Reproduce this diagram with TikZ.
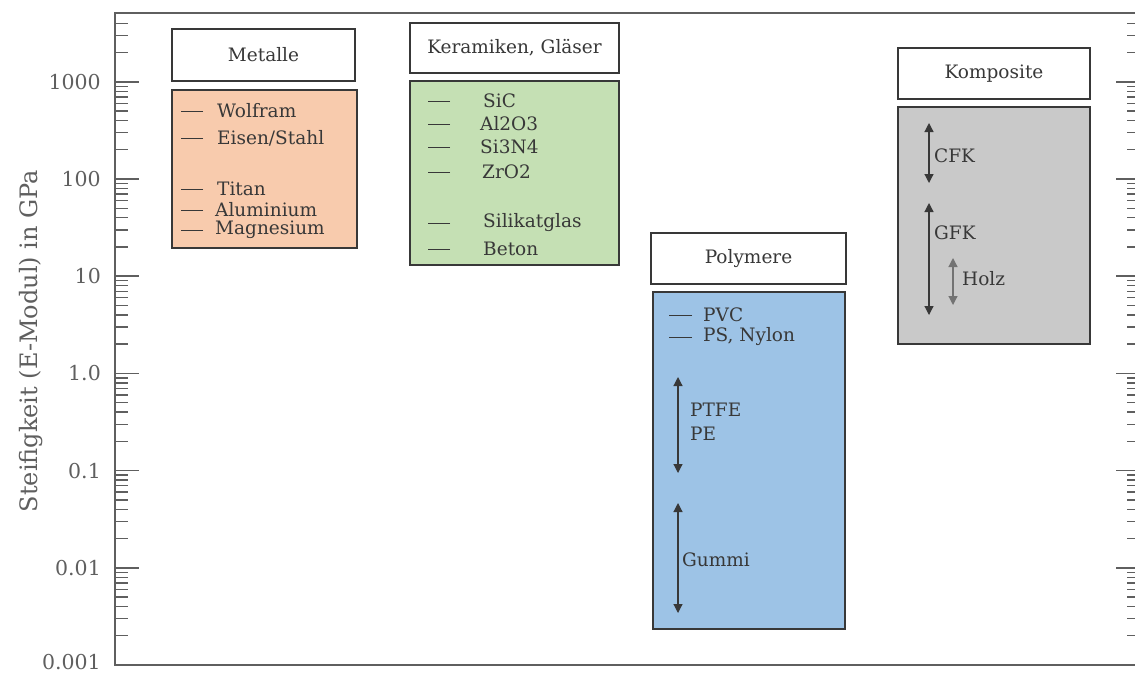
\documentclass[tikz,border=0pt]{standalone}
\usepackage{fontspec}
\setmainfont{DejaVu Serif}
\usepackage{tikz}
\usetikzlibrary{
    arrows.meta,
    calc,
    positioning,
}
\definecolor{metallfill}{HTML}{F8CBAD}
\definecolor{keramikfill}{HTML}{C5E0B4}
\definecolor{polymerfill}{HTML}{9DC3E6}
\definecolor{kompositfill}{HTML}{C9C9C9}
\definecolor{textgray}{HTML}{383838}
\definecolor{axisgray}{HTML}{5F5F5F}

\tikzstyle{headbox}=[draw=textgray,fill=white,line width=1.4pt,rectangle,inner sep=0pt,font=\fontsize{18.5}{22}\selectfont,text=textgray]
\tikzstyle{rangebox}=[draw=textgray,line width=1.4pt,rectangle,inner sep=0pt]
\tikzstyle{itemlabel}=[anchor=west,inner sep=0pt,font=\fontsize{18.5}{22}\selectfont,text=textgray]
\tikzstyle{itemline}=[draw=textgray,line width=0.7pt]
\tikzstyle{spanarrow}=[draw=textgray,line width=1.2pt,{Triangle[length=9pt,width=9pt]}-{Triangle[length=9pt,width=9pt]}]
\tikzstyle{axisline}=[draw=axisgray,line width=1.8pt]
\tikzstyle{majortick}=[draw=axisgray,line width=1.6pt]
\tikzstyle{minortick}=[draw=axisgray,line width=1.4pt]
\tikzstyle{ticklabel}=[anchor=east,inner sep=0pt,font=\fontsize{20.5}{24}\selectfont,text=axisgray]

\begin{document}
\begin{tikzpicture}[x=1pt,y=-1pt]
    \useasboundingbox (0,0) rectangle (1135,675);

    % axes and ticks
    \draw[axisline] (1140,13) -- (115,13) -- (115,665) -- (1140,665);
    \foreach \d/\lab [count=\i] in {-3/0.001,-2/0.01,-1/0.1,0/1.0,1/10,2/100,3/1000} {
        \pgfmathsetmacro\yy{665-97.2*(\d+3)}
        \ifnum\d>-3
            \node[ticklabel] (lab\i) at (101,\yy) {\lab};
            \draw[majortick] (115,\yy) -- (139,\yy);
            \draw[majortick] (1116,\yy) -- (1137,\yy);
        \else
            \node[ticklabel] (lab\i) at (101,\yy-3) {\lab};
        \fi
    }
    \foreach \d in {-3,...,3} {
        \foreach \m in {2,...,9} {
            \pgfmathsetmacro\yy{665-97.2*(\d+3+log10(\m))}
            \ifdim\yy pt>16pt
                \draw[minortick] (115,\yy) -- (128,\yy);
                \draw[minortick] (1127,\yy) -- (1137,\yy);
            \fi
        }
    }
    \node[rotate=90,inner sep=0pt,font=\fontsize{24}{28}\selectfont,text=axisgray] (ylab) at (31,341) {Steifigkeit (E-Modul) in GPa};

    % Metalle
    \node[headbox,minimum width=183pt,minimum height=52pt] (metalle) at (263.5,55) {Metalle};
    \node[rangebox,fill=metallfill,minimum width=185pt,minimum height=158pt] (metallbox) at (264.5,169) {};
    \node[itemlabel] (wolfram) at (217,111) {Wolfram};
    \node[itemlabel] (eisen) at (217,138) {Eisen/Stahl};
    \node[itemlabel] (titan) at (217,189) {Titan};
    \node[itemlabel] (alu) at (215,210) {Aluminium};
    \node[itemlabel] (magnesium) at (215,230) {Magnesium};
    \foreach \n/\g in {wolfram/14,eisen/14,titan/14,alu/12,magnesium/12}
        \draw[itemline] ([xshift=-\g pt]\n.west) -- ++(-22,0);

    % Keramiken
    \node[headbox,minimum width=209pt,minimum height=50pt] (keramik) at (514.5,48) {Keramiken, Gläser};
    \node[rangebox,fill=keramikfill,minimum width=209pt,minimum height=184pt] (keramikbox) at (514.5,173) {};
    \node[itemlabel] (sic) at (483,101) {SiC};
    \node[itemlabel] (alo) at (480,124) {Al2O3};
    \node[itemlabel] (sin) at (480,147) {Si3N4};
    \node[itemlabel] (zro) at (482,172) {ZrO2};
    \node[itemlabel] (glas) at (483,223) {Silikatglas};
    \node[itemlabel] (beton) at (483,249) {Beton};
    \foreach \n/\g in {sic/33,alo/30,sin/30,zro/32,glas/33,beton/33}
        \draw[itemline] ([xshift=-\g pt]\n.west) -- ++(-22,0);

    % Polymere
    \node[headbox,minimum width=195pt,minimum height=51pt] (polymere) at (748.5,258.5) {Polymere};
    \node[rangebox,fill=polymerfill,minimum width=192pt,minimum height=337pt] (polymerbox) at (749,460.5) {};
    \node[itemlabel] (pvc) at (703,315) {PVC};
    \node[itemlabel] (ps) at (703,337) {PS, Nylon};
    \foreach \n in {pvc,ps}
        \draw[itemline] ([xshift=-11pt]\n.west) -- ++(-23,0);
    \coordinate (ptfe-top) at (678,377);
    \coordinate (ptfe-bot) at (678,473);
    \coordinate (gummi-top) at (678,503);
    \coordinate (gummi-bot) at (678,613);
    \draw[spanarrow] (ptfe-top) -- (ptfe-bot);
    \draw[spanarrow] (gummi-top) -- (gummi-bot);
    \node[itemlabel] (ptfe) at (690,410) {PTFE};
    \node[itemlabel] (pe) at (690,434) {PE};
    \node[itemlabel] (gummi) at (682,560) {Gummi};

    % Komposite
    \node[headbox,minimum width=192pt,minimum height=51pt] (komposite) at (994,73.5) {Komposite};
    \node[rangebox,fill=kompositfill,minimum width=192pt,minimum height=237pt] (kompositbox) at (994,225.5) {};
    \coordinate (cfk-top) at (929,123);
    \coordinate (cfk-bot) at (929,183);
    \coordinate (gfk-top) at (929,203);
    \coordinate (gfk-bot) at (929,315);
    \coordinate (holz-top) at (953,258);
    \coordinate (holz-bot) at (953,305);
    \draw[spanarrow] (cfk-top) -- (cfk-bot);
    \draw[spanarrow] (gfk-top) -- (gfk-bot);
    \draw[spanarrow,draw=gray!90!black] (holz-top) -- (holz-bot);
    \node[itemlabel] (cfk) at (934,156) {CFK};
    \node[itemlabel] (gfk) at (934,233) {GFK};
    \node[itemlabel] (holz) at (962,279) {Holz};
\end{tikzpicture}
\end{document}
